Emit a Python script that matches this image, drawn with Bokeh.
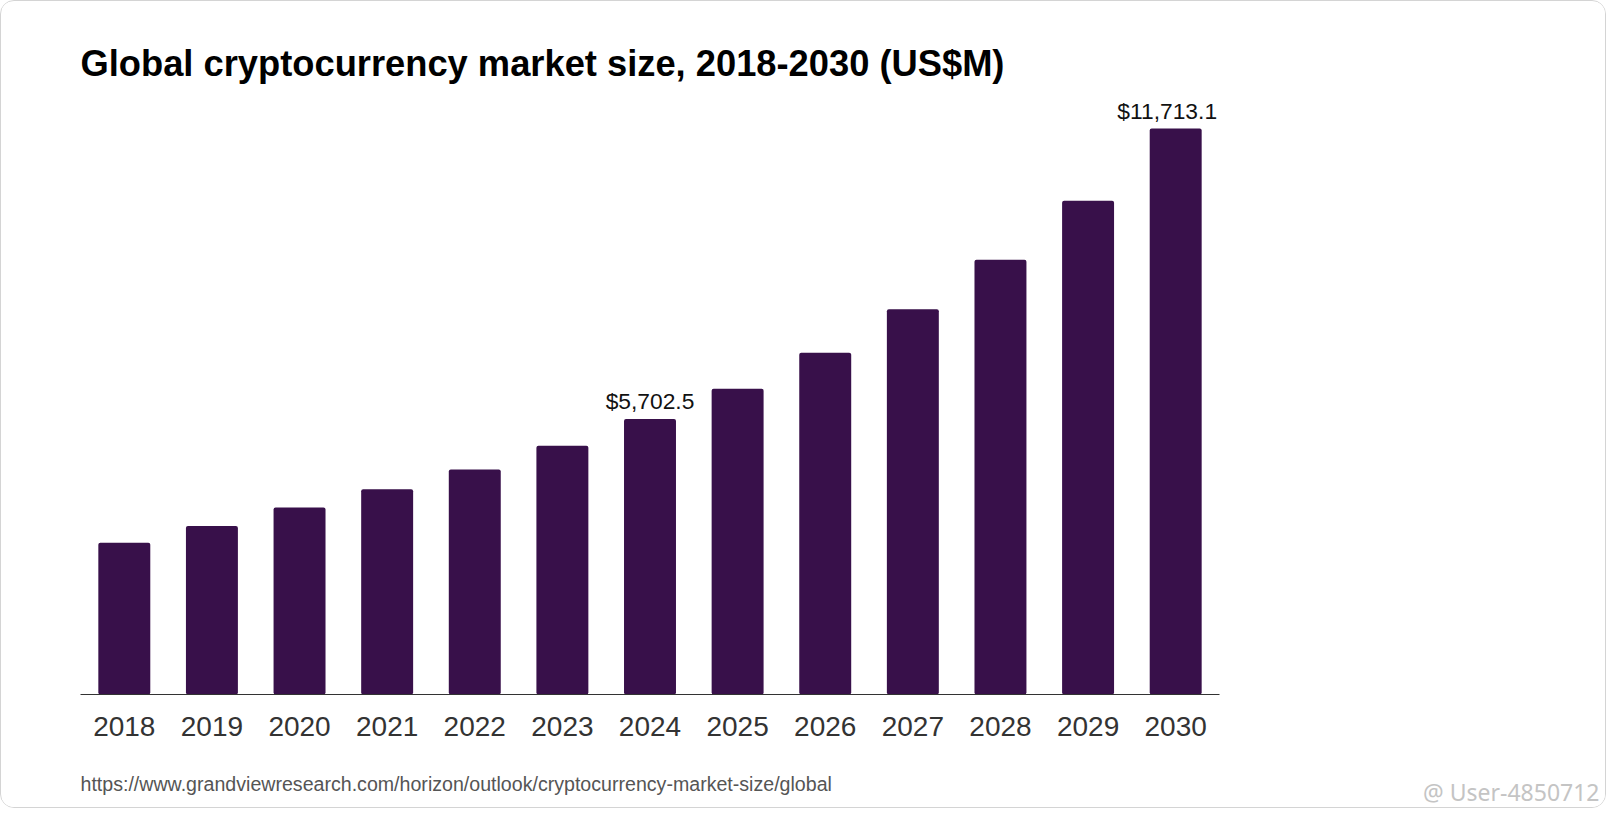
from bokeh.plotting import figure
from bokeh.models import Range1d, Title, ColumnDataSource
from bokeh.embed import file_html
from bokeh.resources import INLINE

years = ["2018", "2019", "2020", "2021", "2022", "2023", "2024",
         "2025", "2026", "2027", "2028", "2029", "2030"]
market_size = [3141.0, 3490.0, 3871.0, 4248.0, 4656.0, 5150.0, 5702.5,
               6329.0, 7075.0, 7972.0, 9000.0, 10220.0, 11713.1]
labelled_years = ["2024", "2030"]

title_text = "Global cryptocurrency market size, 2018-2030 (US$M)"
source_text = "https://www.grandviewresearch.com/horizon/outlook/cryptocurrency-market-size/global"
watermark_text = "@ User-4850712"

BAR = "#38104a"
FONT = "Liberation Sans"

W, H = 1606, 808
B_LEFT, B_RIGHT, B_TOP, B_BOTTOM = 79, 388, 97, 115
frame_h = H - B_TOP - B_BOTTOM
top_px = 565.9  # pixel height of the tallest bar
y_end = max(market_size) * frame_h / top_px

p = figure(x_range=years, y_range=Range1d(0, y_end), width=W, height=H,
           output_backend="svg", toolbar_location=None,
           min_border_left=B_LEFT, min_border_right=B_RIGHT,
           min_border_top=B_TOP, min_border_bottom=B_BOTTOM)
p.styles = {"border": "1px solid #d4d4d4", "border-radius": "14px", "overflow": "hidden"}
p.outline_line_color = None
p.background_fill_color = "white"
p.border_fill_color = "white"
p.grid.visible = False
p.yaxis.visible = False
p.x_range.range_padding = 0.0

src = ColumnDataSource(dict(year=years, value=market_size))
p.vbar(x="year", top="value", width=0.593, source=src, fill_color=BAR,
       line_color=None, border_radius=2)

lab_vals = [market_size[years.index(y)] for y in labelled_years]
lab_src = ColumnDataSource(dict(
    year=labelled_years, value=lab_vals,
    txt=["${:,.1f}".format(v) for v in lab_vals],
    dx=[0, -8.5]))
p.text(x="year", y="value", text="txt", x_offset="dx", y_offset=-18, source=lab_src,
       text_align="center", text_baseline="alphabetic", text_font_size="22.8px",
       text_color="#111111", text_font={"value": FONT})

ax = p.xaxis[0]
ax.axis_line_color = "#333333"
ax.axis_line_width = 1
ax.major_tick_line_color = None
ax.minor_tick_line_color = None
ax.major_label_text_font = FONT
ax.major_label_text_font_size = "28px"
ax.major_label_text_color = "#333333"
ax.major_label_standoff = 16

p.title = Title(text=title_text, align="left", text_font=FONT, text_font_size="36.3px",
                text_font_style="bold", text_color="#000000", standoff=30)

# blank spacer between the axis labels and the source line
p.add_layout(Title(text=" ", align="left", text_font=FONT, text_font_size="10px",
                   standoff=19.3), "below")
p.add_layout(Title(text=source_text, align="left", text_font=FONT, text_font_size="19.6px",
                   text_font_style="normal", text_color="#555555", standoff=0), "below")
p.add_layout(Title(text=watermark_text, align="right", offset=-380, text_font="Noto Sans",
                   text_font_size="23px", text_font_style="normal", text_color="#c4c4c4",
                   vertical_align="top", standoff=-37.4), "below")

open("out.html", "w").write(file_html(p, INLINE))
